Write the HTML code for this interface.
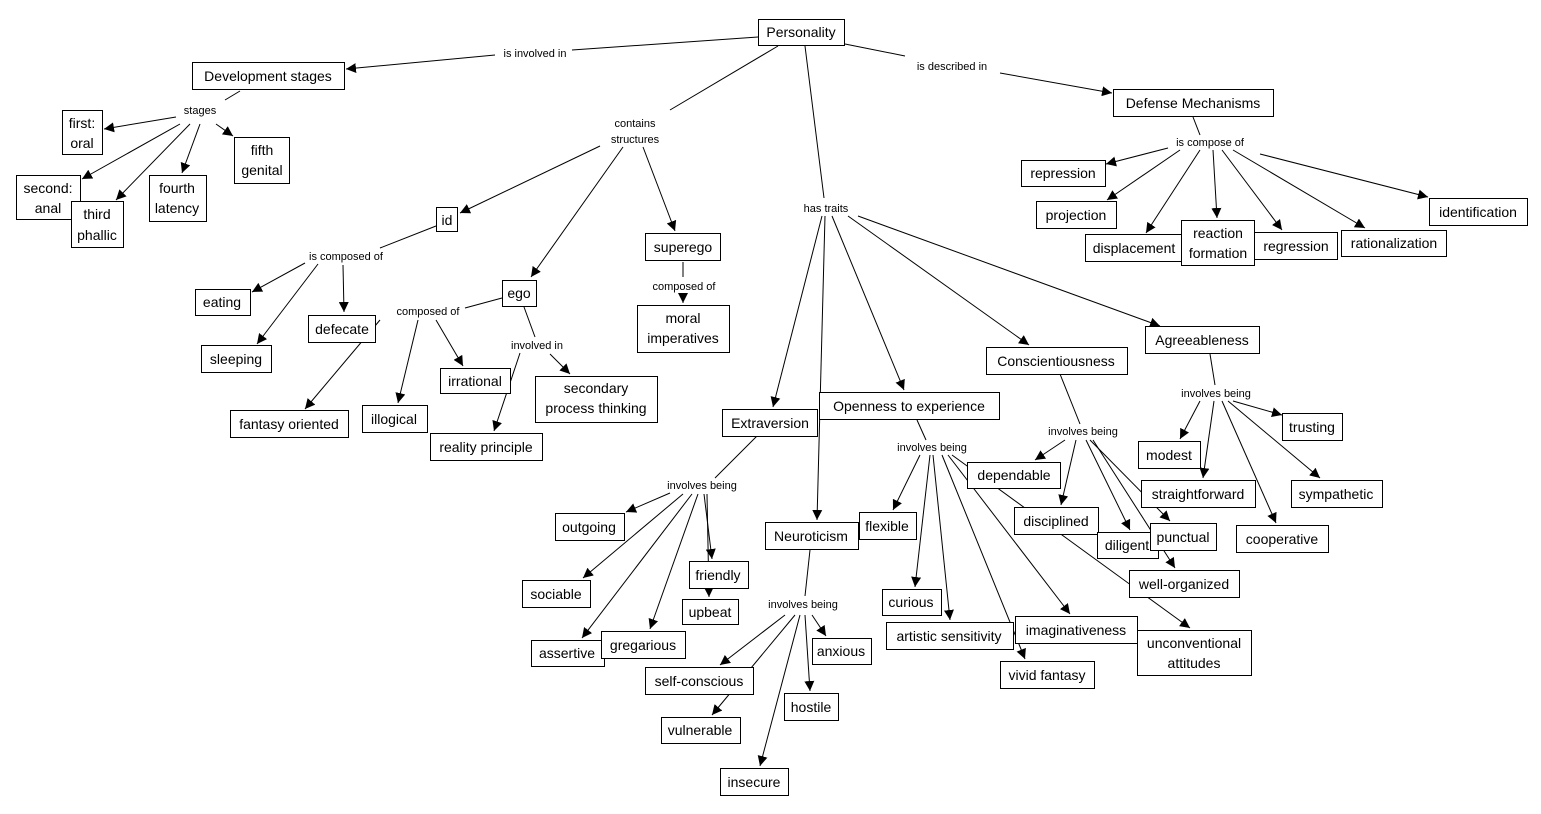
<!DOCTYPE html>
<html><head><meta charset="utf-8"><style>
html,body{margin:0;padding:0;background:#fff;}
svg{display:block;}
text{font-family:"Liberation Sans",Arial,sans-serif;fill:#000;}
.n{font-size:14px;}
.l{font-size:11px;}
</style></head><body>
<svg width="1541" height="814" viewBox="0 0 1541 814" xmlns="http://www.w3.org/2000/svg">
<defs><marker id="a" viewBox="0 0 10 10" refX="10" refY="5" markerWidth="10" markerHeight="10" markerUnits="userSpaceOnUse" orient="auto"><path d="M0,0 L10,5 L0,10 z" fill="#000"/></marker></defs>
<g stroke="#000" stroke-width="1" fill="none">
<line x1="758" y1="37" x2="572" y2="50"/><line x1="495" y1="55" x2="346" y2="69" marker-end="url(#a)"/>
<line x1="845" y1="44" x2="905" y2="56"/><line x1="1000" y1="73" x2="1112" y2="93" marker-end="url(#a)"/>
<line x1="778" y1="46" x2="670" y2="110"/>
<line x1="805" y1="46" x2="824" y2="198"/>
<line x1="240" y1="91" x2="225" y2="100"/>
<line x1="176" y1="117" x2="104" y2="129" marker-end="url(#a)"/>
<line x1="180" y1="124" x2="82" y2="179" marker-end="url(#a)"/>
<line x1="190" y1="124" x2="116" y2="200" marker-end="url(#a)"/>
<line x1="200" y1="124" x2="182" y2="173" marker-end="url(#a)"/>
<line x1="216" y1="124" x2="233" y2="136" marker-end="url(#a)"/>
<line x1="600" y1="146" x2="460" y2="213" marker-end="url(#a)"/>
<line x1="623" y1="147" x2="531" y2="277" marker-end="url(#a)"/>
<line x1="643" y1="147" x2="675" y2="231" marker-end="url(#a)"/>
<line x1="436" y1="226" x2="380" y2="248"/>
<line x1="305" y1="263" x2="252" y2="292" marker-end="url(#a)"/>
<line x1="318" y1="264" x2="257" y2="344" marker-end="url(#a)"/>
<line x1="343" y1="265" x2="344" y2="312" marker-end="url(#a)"/>
<line x1="683" y1="262" x2="683" y2="277"/>
<line x1="683" y1="295" x2="683" y2="303" marker-end="url(#a)"/>
<line x1="502" y1="298" x2="465" y2="308"/>
<line x1="380" y1="320" x2="305" y2="409" marker-end="url(#a)"/>
<line x1="418" y1="320" x2="398" y2="403" marker-end="url(#a)"/>
<line x1="436" y1="320" x2="463" y2="366" marker-end="url(#a)"/>
<line x1="524" y1="307" x2="535" y2="337"/>
<line x1="520" y1="353" x2="494" y2="431" marker-end="url(#a)"/>
<line x1="550" y1="354" x2="570" y2="374" marker-end="url(#a)"/>
<line x1="1193" y1="117" x2="1200" y2="135"/>
<line x1="1168" y1="148" x2="1106" y2="164" marker-end="url(#a)"/>
<line x1="1180" y1="150" x2="1107" y2="200" marker-end="url(#a)"/>
<line x1="1200" y1="150" x2="1146" y2="233" marker-end="url(#a)"/>
<line x1="1213" y1="150" x2="1217" y2="218" marker-end="url(#a)"/>
<line x1="1222" y1="150" x2="1282" y2="230" marker-end="url(#a)"/>
<line x1="1233" y1="150" x2="1365" y2="228" marker-end="url(#a)"/>
<line x1="1260" y1="154" x2="1428" y2="197" marker-end="url(#a)"/>
<line x1="822" y1="216" x2="773" y2="407" marker-end="url(#a)"/>
<line x1="825" y1="216" x2="817" y2="520" marker-end="url(#a)"/>
<line x1="832" y1="216" x2="904" y2="390" marker-end="url(#a)"/>
<line x1="848" y1="216" x2="1029" y2="345" marker-end="url(#a)"/>
<line x1="858" y1="216" x2="1160" y2="326" marker-end="url(#a)"/>
<line x1="757" y1="436" x2="715" y2="478"/>
<line x1="670" y1="493" x2="626" y2="512" marker-end="url(#a)"/>
<line x1="683" y1="494" x2="583" y2="578" marker-end="url(#a)"/>
<line x1="692" y1="494" x2="582" y2="638" marker-end="url(#a)"/>
<line x1="698" y1="494" x2="650" y2="629" marker-end="url(#a)"/>
<line x1="704" y1="494" x2="712" y2="559" marker-end="url(#a)"/>
<line x1="707" y1="494" x2="709" y2="597" marker-end="url(#a)"/>
<line x1="810" y1="550" x2="805" y2="596"/>
<line x1="785" y1="615" x2="720" y2="665" marker-end="url(#a)"/>
<line x1="795" y1="615" x2="712" y2="715" marker-end="url(#a)"/>
<line x1="800" y1="615" x2="760" y2="766" marker-end="url(#a)"/>
<line x1="805" y1="615" x2="810" y2="691" marker-end="url(#a)"/>
<line x1="812" y1="615" x2="826" y2="636" marker-end="url(#a)"/>
<line x1="917" y1="420" x2="926" y2="440"/>
<line x1="920" y1="455" x2="893" y2="510" marker-end="url(#a)"/>
<line x1="930" y1="455" x2="915" y2="587" marker-end="url(#a)"/>
<line x1="933" y1="455" x2="950" y2="620" marker-end="url(#a)"/>
<line x1="942" y1="455" x2="1025" y2="659" marker-end="url(#a)"/>
<line x1="948" y1="455" x2="1070" y2="614" marker-end="url(#a)"/>
<line x1="952" y1="455" x2="1190" y2="628" marker-end="url(#a)"/>
<line x1="1060" y1="374" x2="1080" y2="424"/>
<line x1="1065" y1="440" x2="1035" y2="460" marker-end="url(#a)"/>
<line x1="1076" y1="440" x2="1061" y2="505" marker-end="url(#a)"/>
<line x1="1086" y1="440" x2="1130" y2="530" marker-end="url(#a)"/>
<line x1="1090" y1="440" x2="1170" y2="521" marker-end="url(#a)"/>
<line x1="1093" y1="440" x2="1175" y2="568" marker-end="url(#a)"/>
<line x1="1210" y1="354" x2="1215" y2="385"/>
<line x1="1200" y1="401" x2="1180" y2="439" marker-end="url(#a)"/>
<line x1="1214" y1="401" x2="1203" y2="478" marker-end="url(#a)"/>
<line x1="1233" y1="401" x2="1282" y2="415" marker-end="url(#a)"/>
<line x1="1228" y1="401" x2="1320" y2="478" marker-end="url(#a)"/>
<line x1="1222" y1="401" x2="1276" y2="523" marker-end="url(#a)"/>
</g>
<g class="l" text-anchor="middle">
<text x="535" y="57">is involved in</text>
<text x="952" y="70">is described in</text>
<text x="200" y="114">stages</text>
<text x="635" y="127">contains</text><text x="635" y="143">structures</text>
<text x="1210" y="146">is compose of</text>
<text x="826" y="212">has traits</text>
<text x="346" y="260">is composed of</text>
<text x="684" y="290">composed of</text>
<text x="428" y="315">composed of</text>
<text x="537" y="349">involved in</text>
<text x="1216" y="397">involves being</text>
<text x="1083" y="435">involves being</text>
<text x="932" y="451">involves being</text>
<text x="702" y="489">involves being</text>
<text x="803" y="608">involves being</text>
</g>
<g fill="#fff" stroke="#000" stroke-width="1">
<rect x="758.5" y="19.5" width="86" height="26"/>
<rect x="192.5" y="62.5" width="152" height="27"/>
<rect x="62.5" y="110.5" width="40" height="44"/>
<rect x="16.5" y="175.5" width="64" height="44"/>
<rect x="71.5" y="201.5" width="52" height="46"/>
<rect x="149.5" y="175.5" width="57" height="46"/>
<rect x="234.5" y="137.5" width="55" height="46"/>
<rect x="1113.5" y="89.5" width="160" height="27"/>
<rect x="1021.5" y="160.5" width="84" height="26"/>
<rect x="1036.5" y="201.5" width="80" height="27"/>
<rect x="1085.5" y="234.5" width="98" height="27"/>
<rect x="1254.5" y="232.5" width="83" height="27"/>
<rect x="1181.5" y="220.5" width="73" height="45"/>
<rect x="1341.5" y="230.5" width="105" height="26"/>
<rect x="1429.5" y="198.5" width="98" height="27"/>
<rect x="436.5" y="207.5" width="21" height="24"/>
<rect x="645.5" y="233.5" width="75" height="27"/>
<rect x="502.5" y="280.5" width="34" height="26"/>
<rect x="195.5" y="289.5" width="55" height="26"/>
<rect x="308.5" y="315.5" width="67" height="27"/>
<rect x="201.5" y="345.5" width="70" height="27"/>
<rect x="637.5" y="305.5" width="92" height="47"/>
<rect x="230.5" y="410.5" width="118" height="27"/>
<rect x="362.5" y="405.5" width="65" height="27"/>
<rect x="440.5" y="368.5" width="70" height="25"/>
<rect x="430.5" y="433.5" width="112" height="27"/>
<rect x="535.5" y="376.5" width="122" height="46"/>
<rect x="722.5" y="409.5" width="95" height="27"/>
<rect x="819.5" y="392.5" width="180" height="27"/>
<rect x="986.5" y="347.5" width="141" height="27"/>
<rect x="1145.5" y="326.5" width="114" height="27"/>
<rect x="765.5" y="522.5" width="93" height="27"/>
<rect x="555.5" y="513.5" width="69" height="27"/>
<rect x="522.5" y="580.5" width="68" height="27"/>
<rect x="531.5" y="640.5" width="73" height="26"/>
<rect x="601.5" y="631.5" width="84" height="27"/>
<rect x="689.5" y="561.5" width="59" height="27"/>
<rect x="682.5" y="599.5" width="56" height="25"/>
<rect x="645.5" y="667.5" width="108" height="27"/>
<rect x="661.5" y="717.5" width="79" height="26"/>
<rect x="720.5" y="768.5" width="68" height="27"/>
<rect x="784.5" y="693.5" width="54" height="27"/>
<rect x="812.5" y="638.5" width="59" height="26"/>
<rect x="859.5" y="512.5" width="57" height="27"/>
<rect x="882.5" y="589.5" width="59" height="26"/>
<rect x="886.5" y="622.5" width="127" height="27"/>
<rect x="1000.5" y="661.5" width="94" height="27"/>
<rect x="1015.5" y="616.5" width="122" height="27"/>
<rect x="1137.5" y="630.5" width="114" height="45"/>
<rect x="967.5" y="462.5" width="93" height="26"/>
<rect x="1014.5" y="507.5" width="84" height="27"/>
<rect x="1097.5" y="532.5" width="61" height="26"/>
<rect x="1150.5" y="523.5" width="66" height="27"/>
<rect x="1129.5" y="570.5" width="110" height="27"/>
<rect x="1138.5" y="441.5" width="62" height="27"/>
<rect x="1141.5" y="480.5" width="114" height="27"/>
<rect x="1282.5" y="413.5" width="60" height="27"/>
<rect x="1291.5" y="480.5" width="91" height="27"/>
<rect x="1236.5" y="525.5" width="92" height="27"/>
</g>
<g class="n" text-anchor="middle">
<text x="801" y="37">Personality</text>
<text x="268" y="81">Development stages</text>
<text x="82" y="128">first:</text><text x="82" y="148">oral</text>
<text x="48" y="193">second:</text><text x="48" y="213">anal</text>
<text x="97" y="219">third</text><text x="97" y="240">phallic</text>
<text x="177" y="193">fourth</text><text x="177" y="213">latency</text>
<text x="262" y="155">fifth</text><text x="262" y="175">genital</text>
<text x="1193" y="108">Defense Mechanisms</text>
<text x="1063" y="178">repression</text>
<text x="1076" y="220">projection</text>
<text x="1134" y="253">displacement</text>
<text x="1296" y="251">regression</text>
<text x="1218" y="238">reaction</text><text x="1218" y="258">formation</text>
<text x="1394" y="248">rationalization</text>
<text x="1478" y="217">identification</text>
<text x="447" y="225">id</text>
<text x="683" y="252">superego</text>
<text x="519" y="298">ego</text>
<text x="222" y="307">eating</text>
<text x="342" y="334">defecate</text>
<text x="236" y="364">sleeping</text>
<text x="683" y="323">moral</text><text x="683" y="343">imperatives</text>
<text x="289" y="429">fantasy oriented</text>
<text x="394" y="424">illogical</text>
<text x="475" y="386">irrational</text>
<text x="486" y="452">reality principle</text>
<text x="596" y="393">secondary</text><text x="596" y="413">process thinking</text>
<text x="770" y="428">Extraversion</text>
<text x="909" y="411">Openness to experience</text>
<text x="1056" y="366">Conscientiousness</text>
<text x="1202" y="345">Agreeableness</text>
<text x="811" y="541">Neuroticism</text>
<text x="589" y="532">outgoing</text>
<text x="556" y="599">sociable</text>
<text x="567" y="658">assertive</text>
<text x="643" y="650">gregarious</text>
<text x="718" y="580">friendly</text>
<text x="710" y="617">upbeat</text>
<text x="699" y="686">self-conscious</text>
<text x="700" y="735">vulnerable</text>
<text x="754" y="787">insecure</text>
<text x="811" y="712">hostile</text>
<text x="841" y="656">anxious</text>
<text x="887" y="531">flexible</text>
<text x="911" y="607">curious</text>
<text x="949" y="641">artistic sensitivity</text>
<text x="1047" y="680">vivid fantasy</text>
<text x="1076" y="635">imaginativeness</text>
<text x="1194" y="648">unconventional</text><text x="1194" y="668">attitudes</text>
<text x="1014" y="480">dependable</text>
<text x="1056" y="526">disciplined</text>
<text x="1127" y="550">diligent</text>
<text x="1183" y="542">punctual</text>
<text x="1184" y="589">well-organized</text>
<text x="1169" y="460">modest</text>
<text x="1198" y="499">straightforward</text>
<text x="1312" y="432">trusting</text>
<text x="1336" y="499">sympathetic</text>
<text x="1282" y="544">cooperative</text>
</g>
</svg>
</body></html>
